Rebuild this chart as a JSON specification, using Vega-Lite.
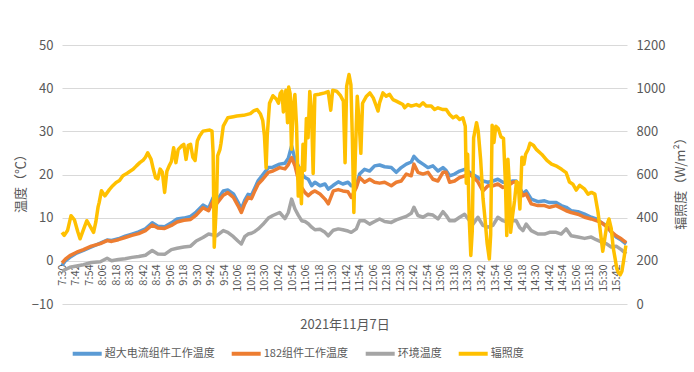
{
"$schema":"https://vega.github.io/schema/vega-lite/v6.json",
"width":565,"height":259,
"autosize":{"type":"none"},
"padding":{"left":62,"top":45,"right":67,"bottom":68},
"background":"white",
"config":{"view":{"stroke":null},"font":"Noto Sans CJK SC",
"axis":{"labelColor":"#595959","titleColor":"#595959","labelFont":"Noto Sans CJK SC","titleFont":"Noto Sans CJK SC","titleFontWeight":"normal","domain":false,"ticks":false},
"legend":{"labelFont":"Noto Sans CJK SC"}},
"datasets":{
"temp":[
{"t":450,"a":-1.1,"b":-0.5,"c":-2.4},{"t":453,"a":0.0,"b":0.4,"c":-2.0},{"t":457,"a":0.8,"b":1.2,"c":-1.5},{"t":463,"a":1.8,"b":2.0,"c":-1.2},{"t":469,"a":2.4,"b":2.6,"c":-0.9},{"t":476,"a":3.2,"b":3.4,"c":-0.4},{"t":484,"a":4.1,"b":4.0,"c":-0.2},{"t":490,"a":4.8,"b":4.7,"c":0.6},{"t":494,"a":4.7,"b":4.5,"c":0.0},{"t":500,"a":5.1,"b":4.9,"c":0.3},{"t":506,"a":5.7,"b":5.4,"c":0.5},{"t":512,"a":6.2,"b":5.9,"c":0.8},{"t":518,"a":6.7,"b":6.3,"c":1.0},{"t":524,"a":7.4,"b":7.0,"c":1.3},{"t":530,"a":8.8,"b":8.3,"c":2.4},{"t":535,"a":8.0,"b":7.6,"c":1.6},{"t":541,"a":7.9,"b":7.5,"c":1.5},{"t":547,"a":8.8,"b":8.2,"c":2.6},{"t":552,"a":9.7,"b":9.0,"c":2.9},{"t":558,"a":9.9,"b":9.4,"c":3.2},{"t":564,"a":10.3,"b":9.6,"c":3.4},{"t":569,"a":11.3,"b":10.6,"c":4.6},{"t":575,"a":12.9,"b":12.3,"c":5.4},{"t":580,"a":12.2,"b":11.6,"c":6.2},{"t":584,"a":14.6,"b":13.9,"c":6.0},{"t":587,"a":13.8,"b":13.2,"c":5.8},{"t":593,"a":16.2,"b":15.2,"c":7.0},{"t":597,"a":16.4,"b":15.8,"c":6.6},{"t":602,"a":15.5,"b":14.7,"c":5.6},{"t":606,"a":13.6,"b":12.8,"c":4.6},{"t":609,"a":12.0,"b":11.2,"c":3.9},{"t":612,"a":14.0,"b":13.2,"c":5.6},{"t":615,"a":15.4,"b":14.7,"c":6.2},{"t":618,"a":15.2,"b":14.4,"c":6.4},{"t":621,"a":16.9,"b":16.2,"c":6.8},{"t":624,"a":18.6,"b":17.8,"c":7.4},{"t":628,"a":19.9,"b":18.9,"c":8.4},{"t":633,"a":21.6,"b":20.5,"c":9.9},{"t":637,"a":21.7,"b":20.8,"c":10.5},{"t":643,"a":22.4,"b":21.6,"c":11.2},
{"t":647.7,"a":22.6,"b":21.3,"c":9.8},{"t":650.7,"a":23.8,"b":22.3,"c":11.2},{"t":653.6,"a":26.6,"b":23.9,"c":14.3},{"t":656.6,"a":23.5,"b":22.0,"c":12.0},{"t":659.5,"a":22.0,"b":18.9,"c":10.6},{"t":662.5,"a":20.1,"b":17.0,"c":9.3},{"t":665.5,"a":19.3,"b":15.8,"c":9.1},{"t":668.4,"a":18.9,"b":15.1,"c":8.6},{"t":671.4,"a":17.4,"b":15.8,"c":7.8},{"t":674.3,"a":18.2,"b":16.2,"c":7.2},{"t":678.8,"a":17.4,"b":15.5,"c":7.3},{"t":683.2,"a":17.8,"b":14.3,"c":6.6},{"t":686.1,"a":16.6,"b":13.2,"c":5.8},{"t":690.6,"a":17.5,"b":16.2,"c":7.1},{"t":695,"a":18.3,"b":16.5,"c":7.4},{"t":699,"a":17.8,"b":16.2,"c":7.2},{"t":703.6,"a":18.2,"b":16.0,"c":6.9},{"t":706.5,"a":17.4,"b":14.7,"c":6.6},{"t":711,"a":17.4,"b":17.0,"c":7.4},{"t":713.9,"a":20.1,"b":19.3,"c":9.3},{"t":718.3,"a":21.2,"b":18.2,"c":9.3},{"t":722.8,"a":20.8,"b":18.9,"c":8.5},{"t":727.2,"a":22.0,"b":18.2,"c":9.1},{"t":731.6,"a":22.2,"b":18.0,"c":9.7},{"t":736.1,"a":21.8,"b":18.2,"c":9.1},{"t":742,"a":21.6,"b":17.4,"c":8.9},{"t":746.4,"a":20.5,"b":18.2,"c":9.5},{"t":750.8,"a":21.6,"b":18.5,"c":9.9},{"t":755.3,"a":22.4,"b":20.1,"c":10.3},{"t":759.7,"a":22.9,"b":19.7,"c":11.0},{"t":762.1,"a":24.2,"b":22.4,"c":12.4},{"t":765.6,"a":23.2,"b":20.5,"c":10.5},{"t":770.1,"a":22.4,"b":20.1,"c":10.1},{"t":774.5,"a":21.6,"b":20.5,"c":10.8},{"t":778.9,"a":22.0,"b":18.9,"c":10.6},{"t":783.4,"a":20.8,"b":18.5,"c":9.7},{"t":787.8,"a":21.6,"b":20.5,"c":11.4},{"t":790.7,"a":20.9,"b":20.5,"c":10.5},{"t":793.7,"a":19.7,"b":18.2,"c":9.3},{"t":798.1,"a":20.1,"b":18.5,"c":9.3},{"t":802.6,"a":20.8,"b":19.3,"c":10.1},{"t":807,"a":21.2,"b":19.7,"c":10.8},{"t":811.4,"a":20.5,"b":20.1,"c":9.3},{"t":814.4,"a":20.0,"b":19.4,"c":8.5},
{"t":818.8,"a":19.3,"b":18.3,"c":10.1},{"t":823.2,"a":18.5,"b":16.2,"c":8.2},{"t":827.7,"a":18.2,"b":17.4,"c":7.8},{"t":832.1,"a":18.5,"b":17.4,"c":8.2},{"t":836.5,"a":18.9,"b":17.8,"c":10.1},{"t":841,"a":18.2,"b":17.0,"c":9.3},{"t":845.4,"a":18.2,"b":17.4,"c":8.9},{"t":849.8,"a":18.5,"b":18.2,"c":9.3},{"t":852.8,"a":18.5,"b":18.3,"c":9.3},{"t":855.7,"a":17.0,"b":16.6,"c":7.8},{"t":858.7,"a":15.5,"b":15.1,"c":7.0},{"t":861.6,"a":16.2,"b":15.5,"c":8.5},{"t":866.1,"a":14.3,"b":13.2,"c":7.0},{"t":872,"a":13.7,"b":12.8,"c":6.2},{"t":877.9,"a":13.9,"b":12.8,"c":6.2},{"t":882.3,"a":13.5,"b":12.4,"c":6.6},{"t":888.2,"a":13.5,"b":12.8,"c":6.6},{"t":892.7,"a":12.8,"b":12.2,"c":6.2},{"t":897.1,"a":12.4,"b":11.6,"c":7.4},{"t":901.5,"a":11.6,"b":11.2,"c":5.8},{"t":907.5,"a":11.4,"b":10.8,"c":5.5},{"t":913.4,"a":10.8,"b":10.1,"c":5.2},{"t":919.3,"a":10.1,"b":9.7,"c":5.5},{"t":923.7,"a":9.7,"b":9.3,"c":4.9},{"t":928.1,"a":8.9,"b":8.9,"c":4.4},{"t":932.6,"a":8.2,"b":8.0,"c":4.0},{"t":937,"a":6.6,"b":6.8,"c":3.2},{"t":941.4,"a":5.5,"b":5.8,"c":3.4},{"t":945.9,"a":4.8,"b":5.1,"c":2.6},{"t":950.3,"a":3.9,"b":4.2,"c":1.6}
],
"irr":[
{"t":450,"v":332},{"t":452,"v":318},{"t":455,"v":342},{"t":458,"v":409},{"t":461,"v":390},{"t":464,"v":335},{"t":466,"v":302},{"t":469,"v":345},{"t":472,"v":386},{"t":475,"v":360},{"t":478,"v":332},{"t":480,"v":380},{"t":482,"v":450},{"t":483,"v":471},{"t":485,"v":525},{"t":488,"v":501},{"t":492,"v":530},{"t":495,"v":548},{"t":498,"v":563},{"t":501,"v":572},{"t":504,"v":594},{"t":507,"v":603},{"t":510,"v":614},{"t":513,"v":624},{"t":516,"v":640},{"t":519,"v":655},{"t":522,"v":667},{"t":524,"v":680},{"t":526,"v":701},{"t":529,"v":670},{"t":531,"v":624},{"t":533,"v":585},{"t":535,"v":580},{"t":537,"v":625},{"t":539,"v":610},{"t":541,"v":517},{"t":543,"v":615},{"t":545,"v":640},{"t":547,"v":660},{"t":549,"v":724},{"t":551,"v":655},{"t":553,"v":715},{"t":556,"v":732},{"t":558,"v":740},{"t":560,"v":670},{"t":562,"v":735},{"t":564,"v":740},{"t":566,"v":680},{"t":568,"v":665},{"t":570,"v":755},{"t":572,"v":778},{"t":575,"v":801},{"t":581,"v":806},{"t":583,"v":801},{"t":584,"v":700},{"t":585,"v":263},{"t":587,"v":471},{"t":588,"v":686},{"t":590,"v":715},{"t":591,"v":745},{"t":593,"v":824},{"t":597,"v":863},{"t":602,"v":868},{"t":605,"v":871},{"t":611,"v":874},{"t":617,"v":882},{"t":620,"v":895},{"t":623,"v":901},{"t":626,"v":880},{"t":628,"v":850},{"t":629.5,"v":780},{"t":631,"v":630},{"t":632,"v":780},{"t":634,"v":930},{"t":637,"v":965},{"t":640,"v":950},{"t":642,"v":930},{"t":643.5,"v":975},{"t":645,"v":986},{"t":646.3,"v":890},{"t":647.5,"v":920},{"t":648.5,"v":990},{"t":650,"v":840},{"t":651,"v":1005},{"t":652.3,"v":975},{"t":653.5,"v":717},{"t":655,"v":917},{"t":656.5,"v":971},{"t":658,"v":824},{"t":659.5,"v":500},{"t":661,"v":630},{"t":662.3,"v":465},{"t":663.7,"v":740},{"t":665.2,"v":620},{"t":666.7,"v":860},{"t":668.2,"v":770},{"t":669.7,"v":985},{"t":671.2,"v":900},{"t":672.7,"v":605},{"t":674.2,"v":968},{"t":678,"v":972},{"t":683,"v":978},{"t":686,"v":984},{"t":688.3,"v":898},{"t":690,"v":990},{"t":693.5,"v":986},{"t":697,"v":965},{"t":699.5,"v":940},{"t":701,"v":655},{"t":702.4,"v":1009},{"t":704.5,"v":1063},{"t":706.2,"v":1015},{"t":707.5,"v":760},{"t":708.8,"v":424},{"t":710,"v":670},{"t":711.8,"v":963},{"t":713.5,"v":840},{"t":715,"v":698},{"t":716.5,"v":930},{"t":720,"v":963},{"t":723,"v":978},{"t":726,"v":955},{"t":728.7,"v":917},{"t":730.2,"v":894},{"t":731.6,"v":932},{"t":734.6,"v":978},{"t":737.5,"v":963},{"t":740.5,"v":971},{"t":743.5,"v":947},{"t":746.4,"v":940},{"t":749.4,"v":932},{"t":752.3,"v":924},{"t":753.8,"v":909},{"t":756.8,"v":924},{"t":759.7,"v":917},{"t":764.1,"v":924},{"t":767.1,"v":917},{"t":770.1,"v":932},{"t":773,"v":917},{"t":777.4,"v":917},{"t":780.4,"v":901},{"t":783.4,"v":909},{"t":787.8,"v":901},{"t":790.7,"v":901},{"t":793.7,"v":878},{"t":796.7,"v":863},{"t":799.6,"v":871},{"t":802.6,"v":855},{"t":805.5,"v":863},{"t":807.6,"v":824},{"t":808.5,"v":560},{"t":809.7,"v":694},{"t":811.1,"v":394},{"t":812.5,"v":225},{"t":813.8,"v":340},{"t":815,"v":770},{"t":817.6,"v":840},{"t":819.1,"v":800},{"t":821.2,"v":670},{"t":823.3,"v":490},{"t":825,"v":400},{"t":827,"v":280},{"t":828.9,"v":209},{"t":830.1,"v":320},{"t":831.4,"v":828},{"t":833,"v":748},{"t":834.7,"v":824},{"t":836.8,"v":813},{"t":839.2,"v":775},{"t":841.5,"v":767},{"t":843.2,"v":560},{"t":844.4,"v":317},{"t":845.4,"v":671},{"t":846.9,"v":532},{"t":847.8,"v":332},{"t":849.5,"v":409},{"t":851.3,"v":480},{"t":853,"v":567},{"t":854.5,"v":560},{"t":856,"v":440},{"t":857,"v":560},{"t":857.8,"v":680},{"t":859.6,"v":648},{"t":861.1,"v":694},{"t":863.4,"v":717},{"t":865,"v":745},{"t":867.9,"v":736},{"t":870.8,"v":715},{"t":875.3,"v":694},{"t":880,"v":665},{"t":884.1,"v":648},{"t":888,"v":640},{"t":893,"v":624},{"t":897,"v":609},{"t":900,"v":565},{"t":903,"v":555},{"t":906,"v":528},{"t":909,"v":550},{"t":913.5,"v":532},{"t":916.5,"v":509},{"t":919.5,"v":517},{"t":922.5,"v":509},{"t":925.3,"v":425},{"t":927.5,"v":330},{"t":929.5,"v":244},{"t":931,"v":293},{"t":933,"v":363},{"t":935,"v":394},{"t":937,"v":350},{"t":938.8,"v":260},{"t":940.5,"v":209},{"t":942,"v":163},{"t":943.5,"v":145},{"t":945,"v":135},{"t":946.5,"v":152},{"t":948,"v":200},{"t":949.1,"v":240},{"t":950,"v":271}
]},
"encoding":{
"x":{"field":"t","type":"quantitative","scale":{"domain":[450,951],"nice":false,"zero":false},
"axis":{"values":[450,462,474,486,498,510,522,534,546,558,570,582,594,606,618,630,642,654,666,678,690,702,714,726,738,750,762,774,786,798,810,822,834,846,858,870,882,894,906,918,930,942],
"labelExpr":"floor(datum.value/60) + ':' + (datum.value % 60 < 10 ? '0' : '') + (datum.value % 60)",
"labelAngle":270,"labelFontSize":11,"labelPadding":3,"labelOverlap":false,"labelBound":false,"grid":false,"offset":-43.17,
"title":"2021年11月7日","titleFontSize":13,"titleY":64,"titleBaseline":"middle"}}
},
"layer":[
{"data":{"name":"temp"},
"transform":[{"fold":["a","b","c"],"as":["series","value"]}],
"mark":{"type":"line","strokeWidth":3.5,"strokeJoin":"round"},
"encoding":{
"y":{"field":"value","type":"quantitative","scale":{"domain":[-10,50],"nice":false},
"axis":{"values":[-10,0,10,20,30,40,50],"grid":true,"gridColor":"#d9d9d9","gridWidth":1,"labelFontSize":13,"labelPadding":9,
"title":"温度（℃）","titleFontSize":13,"titleX":-42,"titleY":135,"titleAngle":270,"titleAlign":"center","titleBaseline":"middle"}},
"color":{"field":"series","type":"nominal",
"scale":{"domain":["a","b","c","d"],"range":["#5B9BD5","#ED7D31","#A5A5A5","#FFC000"]},
"legend":{"orient":"none","legendX":8.7,"legendY":292,"direction":"horizontal","title":null,"symbolType":"stroke","symbolSize":841,"symbolStrokeWidth":4,"labelFontSize":11,"labelColor":"#595959","labelOffset":1,"columnPadding":9,"padding":0,
"labelExpr":"datum.label == 'a' ? '超大电流组件工作温度' : datum.label == 'b' ? '182组件工作温度' : datum.label == 'c' ? '环境温度' : '辐照度'"}}
}},
{"data":{"name":"irr"},
"mark":{"type":"line","strokeWidth":3.5,"strokeJoin":"round"},
"encoding":{
"y":{"field":"v","type":"quantitative","scale":{"domain":[0,1200],"nice":false},
"axis":{"orient":"right","values":[0,200,400,600,800,1000,1200],"format":"d","grid":false,"labelFontSize":13,"labelPadding":9,
"title":"辐照度（W/m²）","titleFontSize":13,"titleX":53,"titleY":135,"titleAngle":270,"titleAlign":"center","titleBaseline":"middle"}},
"color":{"datum":"d"}
}}
],
"resolve":{"scale":{"y":"independent"}}
}
